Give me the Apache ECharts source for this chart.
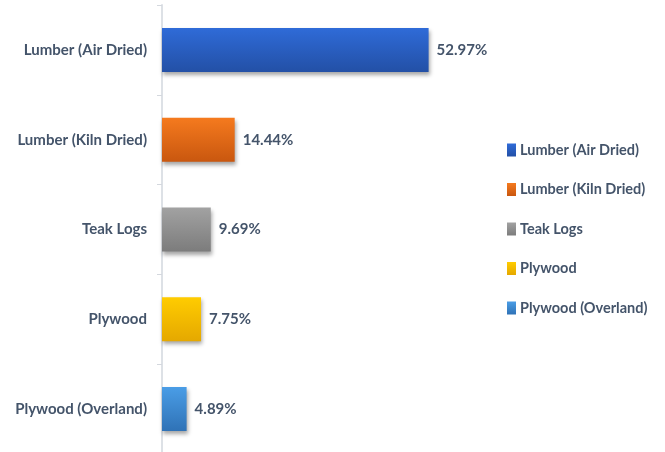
<!DOCTYPE html>
<html>
<head>
<meta charset="utf-8">
<script src="https://cdn.jsdelivr.net/npm/echarts@6/dist/echarts.min.js"></script>
<style>
  html, body { margin: 0; padding: 0; background: #fff; }
  #container { width: 665px; height: 452px; }
</style>
</head>
<body>
<div id="container"></div>
<script>
// Chart data
var categories = ['Lumber (Air Dried)', 'Lumber (Kiln Dried)', 'Teak Logs', 'Plywood', 'Plywood (Overland)'];
var shares = [52.97, 14.44, 9.69, 7.75, 4.89];
// top / bottom colour of each bar's gradient
var topColors = ['#2f6bd8', '#f57a1e', '#a2a2a2', '#ffcc00', '#4a9de6'];
var bottomColors = ['#2350a6', '#c9570f', '#7c7c7c', '#e5a800', '#2f72b6'];

var textColor = '#44546a';
var fontName = 'Lato';

var myChart = echarts.init(document.getElementById('container'));

var series = categories.map(function (name, i) {
    var data = categories.map(function (c, j) { return j === i ? shares[i] : '-'; });
    return {
        name: name,
        type: 'bar',
        stack: 'all',
        barWidth: 44,
        data: data,
        itemStyle: {
            color: new echarts.graphic.LinearGradient(0, 0, 0, 1, [
                { offset: 0, color: topColors[i] },
                { offset: 1, color: bottomColors[i] }
            ]),
            shadowColor: 'rgba(0, 0, 0, 0.35)',
            shadowBlur: 4,
            shadowOffsetX: 1,
            shadowOffsetY: 3
        },
        label: {
            show: true,
            position: 'right',
            distance: 8,
            color: textColor,
            fontFamily: fontName,
            fontWeight: 'bold',
            fontSize: 15,
            formatter: function (p) { return p.value.toFixed(2) + '%'; }
        }
    };
});

var option = {
    animation: false,
    grid: { left: 162, top: 5, width: 302, height: 449, outerBoundsMode: 'none' },
    legend: {
        orient: 'vertical',
        left: 507,
        top: 142,
        padding: 0,
        itemWidth: 9,
        itemHeight: 13,
        itemGap: 23.5,
        icon: 'rect',
        textStyle: { color: textColor, fontFamily: fontName, fontWeight: 'bold', fontSize: 14.5, lineHeight: 16, padding: [0, 0, 0, -1] },
        data: categories
    },
    xAxis: {
        type: 'value',
        min: 0,
        max: 60,
        show: false
    },
    yAxis: {
        type: 'category',
        inverse: true,
        data: categories,
        axisLine: { lineStyle: { color: '#dde1e6', width: 2 } },
        axisTick: { show: true, length: 5, lineStyle: { color: '#d4d8de' } },
        axisLabel: { margin: 15, color: textColor, fontFamily: fontName, fontWeight: 'bold', fontSize: 15 }
    },
    series: series
};
myChart.setOption(option);
</script>
</body>
</html>
